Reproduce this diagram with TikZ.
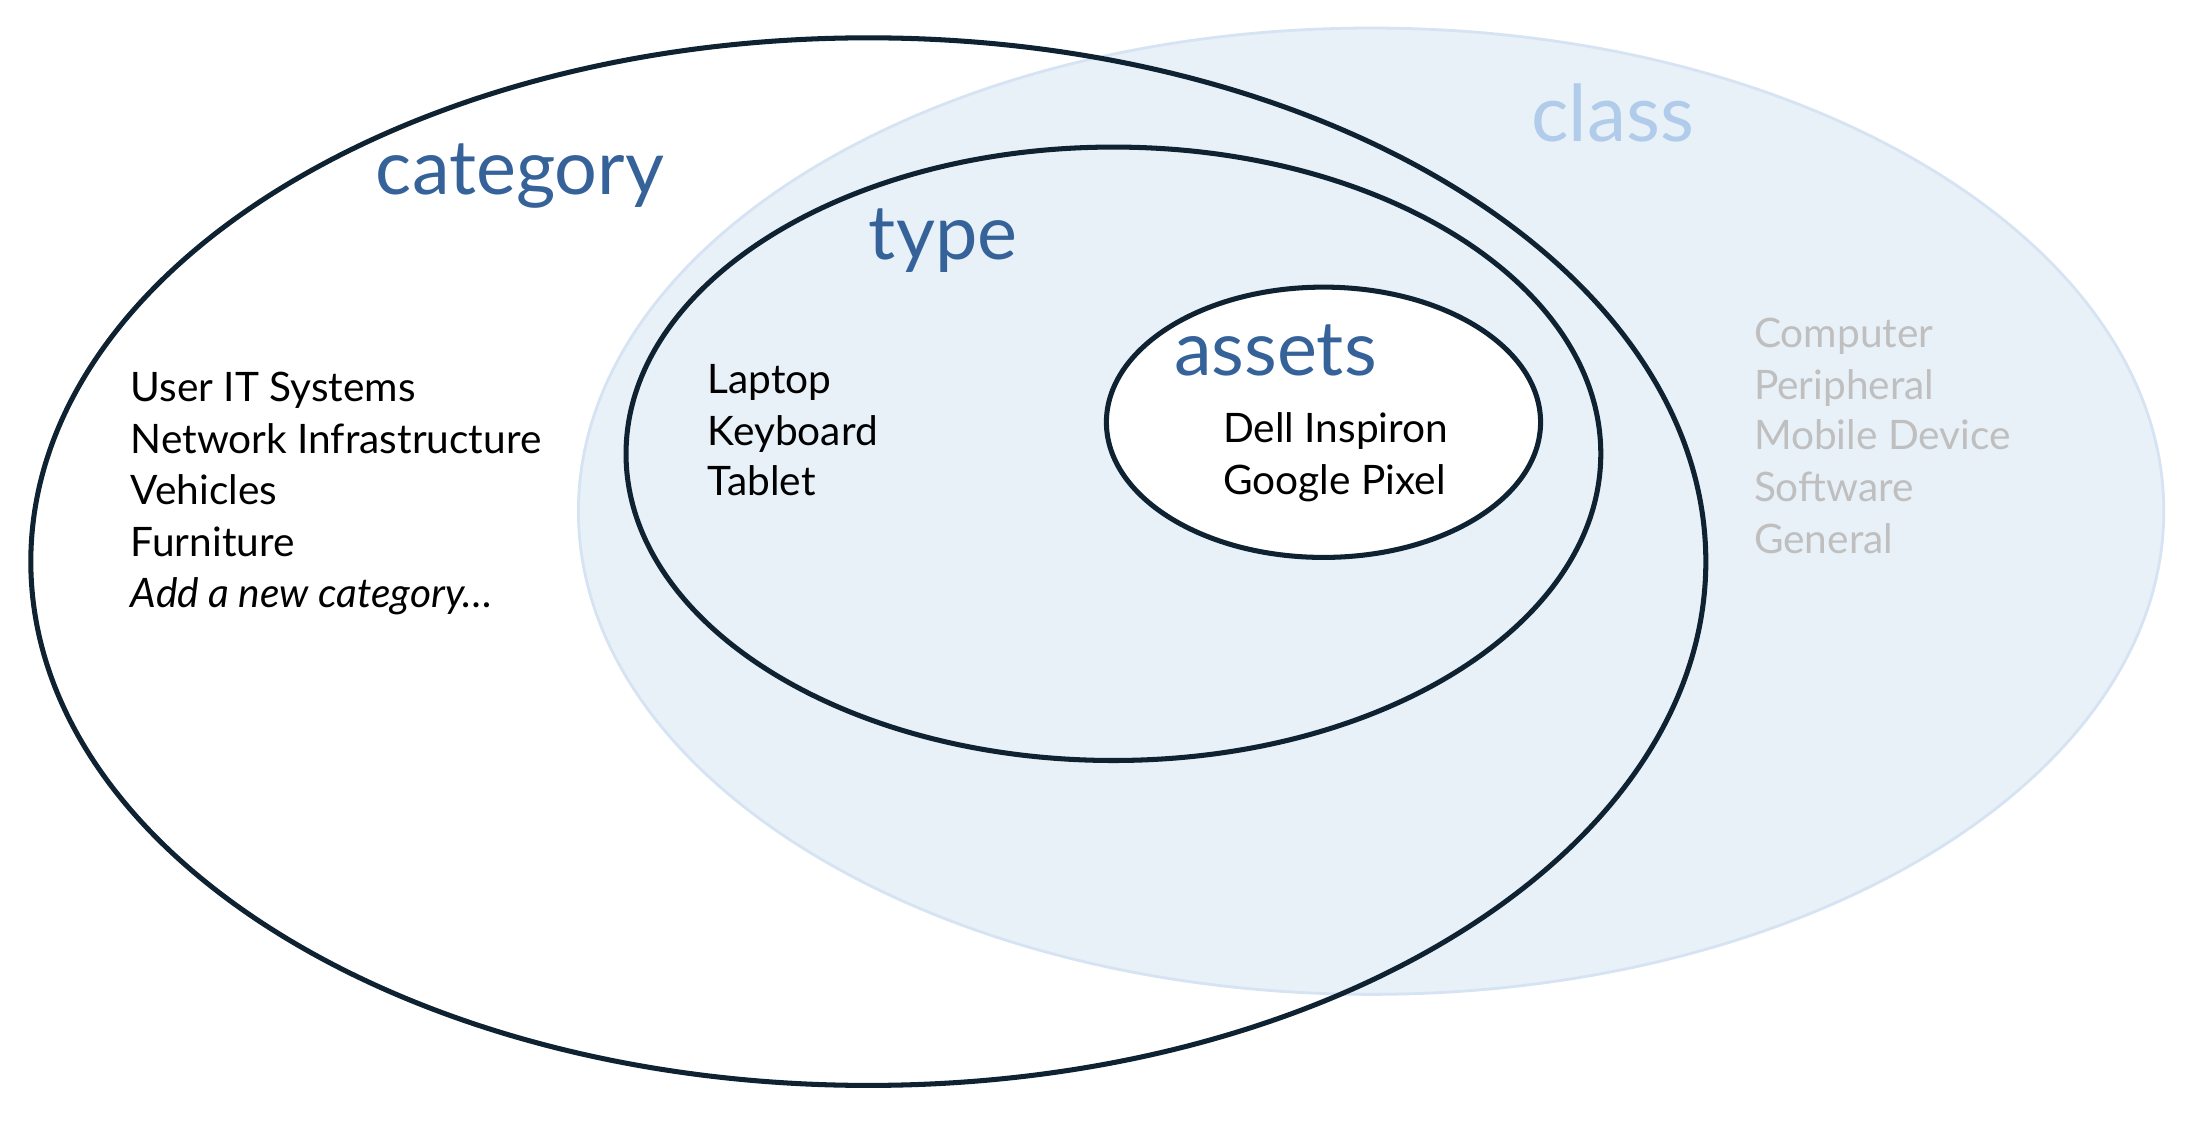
\documentclass[tikz,border=0pt]{standalone}
\usepackage{fontspec}
\setmainfont{Lato}
\usepackage{tikz}
\usetikzlibrary{positioning}

\definecolor{classfill}{HTML}{E8F0F8}
\definecolor{classline}{HTML}{D5E3F3}
\definecolor{ringline}{HTML}{0E2232}
\definecolor{headblue}{HTML}{356299}
\definecolor{classblue}{HTML}{B0CCEA}
\definecolor{greytext}{HTML}{BFBFBF}

\begin{document}
\begin{tikzpicture}[x=0.5pt,y=0.5pt,yscale=-1,xscale=1,
  head/.style={inner sep=0pt, anchor=base west, text=headblue, font=\fontsize{27}{27}\selectfont},
  item/.style={inner sep=0pt, anchor=base west, font=\fontsize{14.5}{17}\selectfont},
  greyitem/.style={item, text=greytext}]
%set diagram left start at 0, and has height of 800
\path[use as bounding box] (0,0) rectangle (1568,800);

%Shape: Ellipse [id:dp3418826150] class
\draw [color=classline, fill=classfill, line width=1pt] (979,365) ellipse (566 and 345);

%Shape: Ellipse [id:dp7702915634] category
\draw [color=ringline, line width=1.8pt] (620,401) ellipse (598 and 374);

%Shape: Ellipse [id:dp5129047731] type
\draw [color=ringline, line width=1.8pt] (795,324) ellipse (348 and 219);

%Shape: Ellipse [id:dp0864213597] assets
\draw [color=ringline, fill=white, line width=1.8pt] (945,301.5) ellipse (155 and 96.5);


% Text Node
\node (category) [head] at (268,139) {category};
% Text Node
\node (type) [head] at (620,185) {type};
% Text Node
\node (assets) [head] at (838,268) {assets};
% Text Node
\node (class) [head, text=classblue, font=\fontsize{28}{28}\selectfont] at (1093,101) {class};

% Text Node
\node (cat1) [item] at (93,287) {User IT Systems};
% Text Node
\node (cat2) [item] at (93,324) {Network Infrastructure};
% Text Node
\node (cat3) [item] at (93,360) {Vehicles};
% Text Node
\node (cat4) [item] at (93,397) {Furniture};
% Text Node
\node (cat5) [item, font=\fontsize{14.5}{17}\selectfont\itshape] at (93,434) {Add a new category…};

% Text Node
\node (type1) [item] at (505,281) {Laptop};
% Text Node
\node (type2) [item] at (505,318) {Keyboard};
% Text Node
\node (type3) [item] at (505,354) {Tablet};

% Text Node
\node (asset1) [item] at (873,316) {Dell Inspiron};
% Text Node
\node (asset2) [item] at (873,353) {Google Pixel};

% Text Node
\node (class1) [greyitem] at (1252,248) {Computer};
% Text Node
\node (class2) [greyitem] at (1252,285) {Peripheral};
% Text Node
\node (class3) [greyitem] at (1252,321) {Mobile Device};
% Text Node
\node (class4) [greyitem] at (1252,358) {Software};
% Text Node
\node (class5) [greyitem] at (1252,395) {General};

\end{tikzpicture}
\end{document}
